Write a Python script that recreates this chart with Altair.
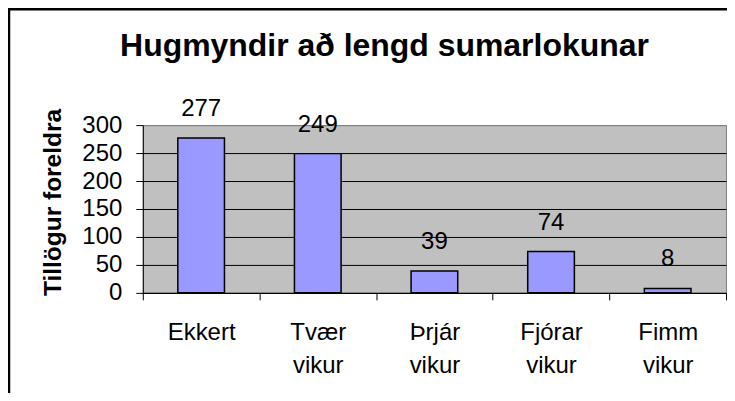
import altair as alt
import pandas as pd

categories = ["Ekkert", "Tvær vikur", "Þrjár vikur", "Fjórar vikur", "Fimm vikur"]
values = [277, 249, 39, 74, 8]
y_ticks = [0, 50, 100, 150, 200, 250, 300]

df = pd.DataFrame({"cat": categories, "val": values})

FONT = "Liberation Sans"
W, H = 584, 168
FS = 24

base = alt.Chart(df)

x_enc = alt.X(
    "cat:N",
    sort=categories,
    scale=alt.Scale(paddingInner=0, paddingOuter=0),
    axis=alt.Axis(
        title=None,
        labelAngle=0,
        labelExpr="split(datum.label, ' ')",
        labelFontSize=FS,
        labelFont=FONT,
        labelColor="black",
        labelLineHeight=33,
        labelPadding=21,
        labelBaseline="top",
        tickBand="extent",
        tickSize=7,
        tickColor="black",
        domainColor="black",
        grid=False,
    ),
)

y_enc = alt.Y(
    "val:Q",
    scale=alt.Scale(domain=[0, 300], nice=False),
    axis=alt.Axis(
        title="Tillögur foreldra",
        titleFont=FONT,
        titleFontSize=24.5,
        titleFontWeight="bold",
        titleColor="black",
        titleAngle=270,
        titleAlign="center",
        titleBaseline="alphabetic",
        titleX=-82,
        titleY=77,
        values=y_ticks,
        tickCount=7,
        labelOverlap=False,
        labelFontSize=FS,
        labelFont=FONT,
        labelColor="black",
        labelPadding=14,
        tickSize=7,
        tickColor="black",
        domainColor="black",
        gridColor=alt.condition("datum.value >= 300", alt.value("#808080"), alt.value("#000000")),
        gridWidth=1,
    ),
)

bars = base.mark_bar(
    width=alt.RelativeBandSize(0.4),
    color="#9999FF",
    stroke="black",
    strokeWidth=1.5,
).encode(x=x_enc, y=y_enc)

labels = base.mark_text(
    dy=-22, baseline="alphabetic", fontSize=FS, font=FONT, color="black"
).encode(x=alt.X("cat:N", sort=categories), y="val:Q", text="val:Q")

one = alt.Data(values=[{}])
frame_left = alt.Chart(one).mark_rule(color="black", strokeWidth=2.5).encode(
    x=alt.value(-134), y=alt.value(-117), y2=alt.value(H + 300),
)
frame_top = alt.Chart(one).mark_rule(color="black", strokeWidth=2.5).encode(
    x=alt.value(-135), x2=alt.value(W + 300), y=alt.value(-116),
)

chart = alt.layer(frame_left, frame_top, bars, labels).properties(
    width=W,
    height=H,
    title=alt.TitleParams(
        text="Hugmyndir að lengd sumarlokunar",
        font=FONT,
        fontSize=32,
        fontWeight="bold",
        color="black",
        anchor="middle",
        frame="group",
        dx=-50,
        dy=81,
        baseline="alphabetic",
        offset=0,
    ),
    autosize="none",
    padding={"left": 135, "top": 117, "right": 1, "bottom": 100},
).configure(
    background="white",
    view=alt.ViewConfig(fill="#C0C0C0", stroke="#808080", strokeWidth=1),
)

chart.save("out.html", embed_options={"renderer": "svg", "actions": False})
